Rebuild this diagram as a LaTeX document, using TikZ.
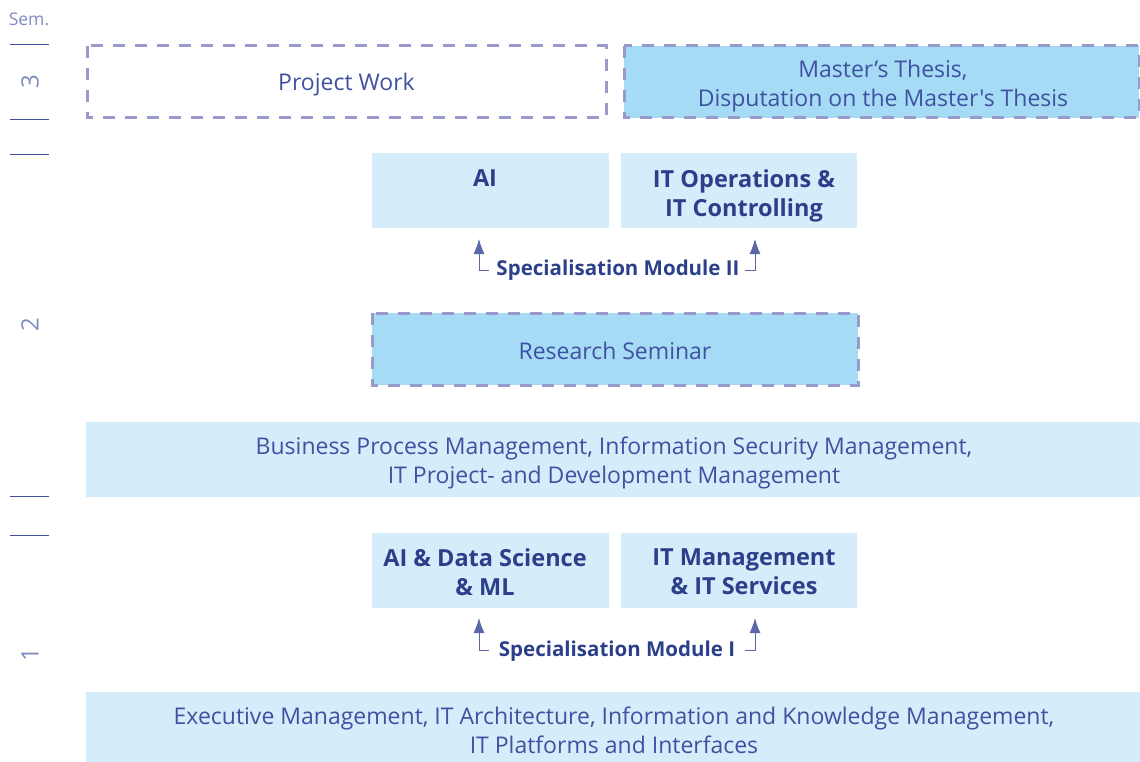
\documentclass[tikz,border=0pt]{standalone}
\usepackage{fontspec}
\setmainfont{Open Sans}[Ligatures=TeXOff]
\usetikzlibrary{arrows.meta}
\definecolor{txtblue}{HTML}{3F51A0}
\definecolor{boldblue}{HTML}{2C3F8A}
\definecolor{lightbox}{HTML}{D5ECFA}
\definecolor{darkbox}{HTML}{A6DBF6}
\definecolor{dashcol}{HTML}{9A9ACA}
\definecolor{arrowcol}{HTML}{5B68A8}
\definecolor{semgray}{HTML}{7F8CC0}
\begin{document}
\begin{tikzpicture}[x=1pt,y=-1pt,
  box/.style={draw=none,fill=lightbox},
  dbox/.style={draw=dashcol,line width=3pt,dash pattern=on 12pt off 10pt},
  lighttxt/.style={text=txtblue,font=\fontsize{23}{29}\selectfont,align=center},
  boldtxt/.style={text=boldblue,font=\fontsize{23.5}{29}\bfseries\selectfont,align=center},
  smodtxt/.style={text=boldblue,font=\fontsize{20.5}{22}\bfseries\selectfont},
  tick/.style={draw=txtblue,line width=1pt},
  semnum/.style={text=semgray,font=\fontsize{24}{24}\selectfont,rotate=90},
  arr/.style={draw=arrowcol,line width=0.9pt,-{Latex[length=15pt,width=11pt]}}
]
\useasboundingbox (0,0) rectangle (1140,762);
% semester column
\node[text=semgray,font=\fontsize{17.5}{18}\selectfont] (sem) at (29,19) {Sem.};
\foreach \yy/\nm in {45/t1,120/t2,155/t3,496/t4,535/t5}{
  \coordinate (\nm a) at (10,\yy); \coordinate (\nm b) at (49,\yy);
  \draw[tick] (\nm a) -- (\nm b);
}
\node[semnum] (s3) at (30,82) {3};
\node[semnum] (s2) at (30,325) {2};
\node[semnum] (s1) at (30,655) {1};
% semester 3
\path[fill=white] (87,46) rectangle (606,118);
\draw[dbox] (87,46) rectangle (606,118);
\node[lighttxt] (pw) at (346.5,85) {Project Work};
\path[fill=darkbox] (624,46) rectangle (1139,118);
\draw[dbox] (624,46) rectangle (1139,118);
\node[lighttxt] (mt) at (883,86.5) {Master’s Thesis,\\Disputation on the Master's Thesis};
% semester 2
\path[box] (372,153) rectangle (609,228);
\path[box] (621,153) rectangle (857,228);
\node[boldtxt,anchor=north] (ai) at (485,166) {AI};
\node[boldtxt,anchor=north] (itop) at (744,166) {IT Operations \&\\IT Controlling};
\coordinate (ai2a) at (479,270);
\coordinate (ai2b) at (489,270);
\coordinate (it2a) at (755,270);
\coordinate (it2b) at (745,270);
\draw[arr] (ai2b) -- (ai2a) -- (479,239);
\draw[arr] (it2b) -- (it2a) -- (755,239);
\node[smodtxt] (sm2) at (618,270) {Specialisation Module II};
\path[fill=darkbox] (372,313) rectangle (858,385);
\draw[dbox] (372,313) rectangle (858,385);
\node[lighttxt] (rs) at (615,350.5) {Research Seminar};
\path[box] (86,422) rectangle (1140,497);
\node[lighttxt] (bpm) at (614,463) {Business Process Management, Information Security Management,\\IT Project- and Development Management};
% semester 1
\path[box] (372,533) rectangle (609,608);
\path[box] (621,533) rectangle (857,608);
\node[boldtxt,anchor=north] (aids) at (485,545) {AI \& Data Science\\\& ML};
\node[boldtxt,anchor=north] (itm) at (744,545) {IT Management\\\& IT Services};
\coordinate (ai1a) at (479,650);
\coordinate (ai1b) at (489,650);
\coordinate (it1a) at (755,650);
\coordinate (it1b) at (745,650);
\draw[arr] (ai1b) -- (ai1a) -- (479,618);
\draw[arr] (it1b) -- (it1a) -- (755,618);
\node[smodtxt] (sm1) at (617,651) {Specialisation Module I};
\path[box] (86,692) rectangle (1140,762);
\node[lighttxt] (ex) at (614,730.5) {Executive Management, IT Architecture, Information and Knowledge Management,\\IT Platforms and Interfaces};
\end{tikzpicture}
\end{document}
